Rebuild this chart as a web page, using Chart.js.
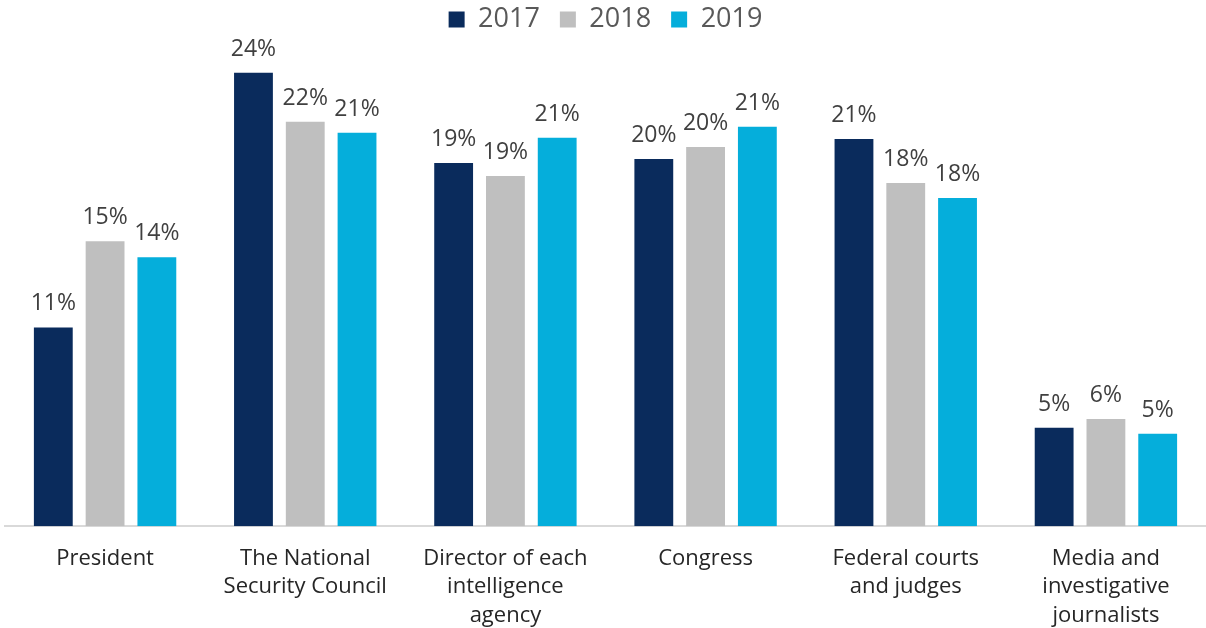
<!DOCTYPE html>
<html>
<head>
<meta charset="utf-8">
<script src="https://cdn.jsdelivr.net/npm/chart.js@4"></script>
<style>
html,body{margin:0;padding:0;background:#fff;}
#wrap{width:1206px;height:628px;position:relative;}
</style>
</head>
<body>
<div id="wrap"><canvas id="c"></canvas></div>
<script>
const categories = [
  ["President"],
  ["The National", "Security Council"],
  ["Director of each", "intelligence", "agency"],
  ["Congress"],
  ["Federal courts", "and judges"],
  ["Media and", "investigative", "journalists"]
];
const seriesNames = ["2017", "2018", "2019"];
const values2017 = [10.65, 24.3, 19.46, 19.68, 20.75, 5.27];
const values2018 = [15.27, 21.67, 18.76, 20.32, 18.39, 5.75];
const values2019 = [14.41, 21.08, 20.81, 21.4, 17.58, 4.95];
const colors = ["#0A2B5C", "#BFBFBF", "#05AEDB"];
const yMin = 0, yMax = 25.89;

const FONT = "'Open Sans', 'DejaVu Sans', sans-serif";

const valueLabels = {
  id: 'valueLabels',
  afterDatasetsDraw(chart) {
    const ctx = chart.ctx;
    ctx.save();
    ctx.font = "23px " + FONT;
    ctx.fillStyle = "#404040";
    ctx.textAlign = "center";
    ctx.textBaseline = "alphabetic";
    chart.data.datasets.forEach((ds, i) => {
      const meta = chart.getDatasetMeta(i);
      meta.data.forEach((bar, j) => {
        ctx.fillText(Math.round(ds.data[j]) + "%", bar.x, bar.y - 17);
      });
    });
    ctx.restore();
  }
};

new Chart(document.getElementById('c'), {
  type: 'bar',
  data: {
    labels: categories,
    datasets: [values2017, values2018, values2019].map((d, i) => ({
      label: seriesNames[i],
      data: d,
      backgroundColor: colors[i],
      borderWidth: 0,
      barPercentage: 0.75,
      categoryPercentage: 0.776
    }))
  },
  options: {
    responsive: true,
    maintainAspectRatio: false,
    animation: false,
    layout: { padding: { left: 5, right: 0, top: -14, bottom: -20 } },
    plugins: {
      legend: {
        position: 'top',
        labels: {
          font: { family: FONT, size: 27 },
          color: '#595959',
          boxWidth: 16,
          boxHeight: 16,
          padding: 20
        }
      },
      tooltip: { enabled: false }
    },
    scales: {
      x: {
        grid: { display: false, drawTicks: false },
        border: { display: true, color: '#D9D9D9', width: 2 },
        ticks: {
          font: { family: FONT, size: 22, lineHeight: 1.3 },
          color: '#262626',
          padding: 18,
          maxRotation: 0,
          autoSkip: false
        }
      },
      y: {
        display: false,
        min: yMin,
        max: yMax
      }
    }
  },
  plugins: [valueLabels]
});
</script>
</body>
</html>
